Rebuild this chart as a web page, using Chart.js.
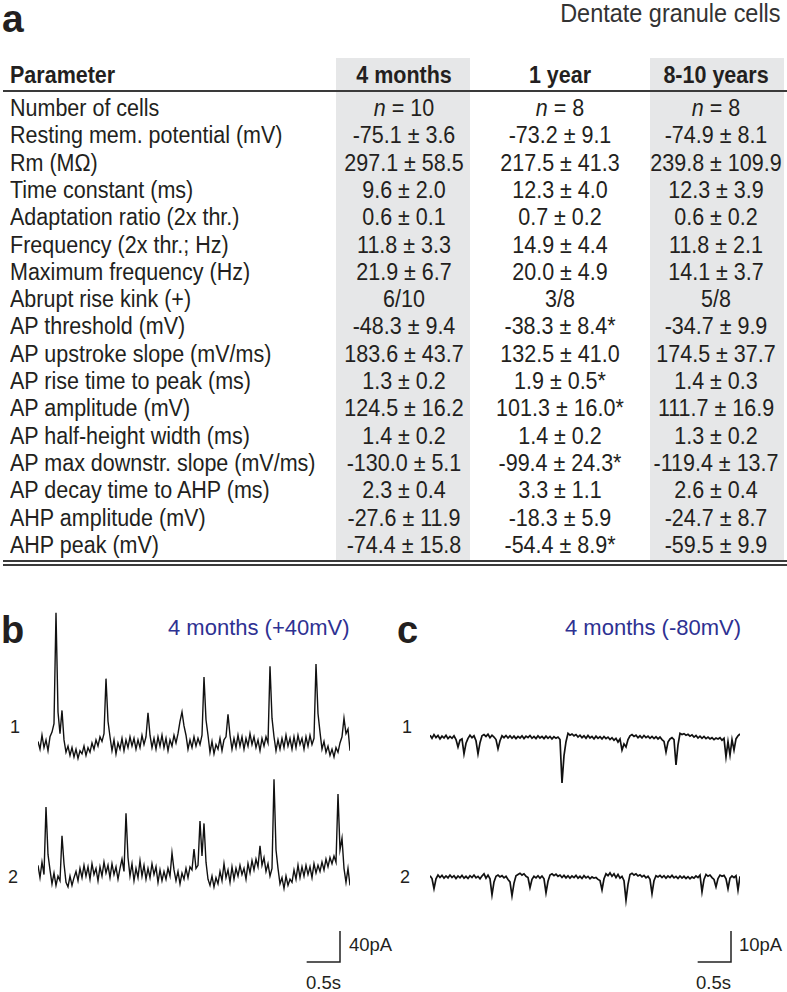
<!DOCTYPE html>
<html>
<head>
<meta charset="utf-8">
<script src="https://cdn.jsdelivr.net/npm/chart.js@4/dist/chart.umd.min.js"></script>
<style>
  body { margin:0; width:787px; height:992px; background:#fff; position:relative; overflow:hidden;
         font-family:"Liberation Sans", Arial, sans-serif; color:#231f20; }
  .t { position:absolute; white-space:nowrap; height:24px; line-height:24px; font-size:21.5px; }
  .n { font-size:23.5px; transform:scaleX(0.915); transform-origin:left center; }
  .c { text-align:center; width:170px; transform-origin:center center; }
  .b { font-weight:bold; }
  .band { position:absolute; background:#e6e7e8; }
  .rule { position:absolute; left:3px; width:784px; background:#3a3a3a; }
  canvas { position:absolute; }
</style>
</head>
<body>

<div class="band" style="left:336px; top:58px; width:134px; height:503px"></div>
<div class="band" style="left:650px; top:58px; width:134px; height:503px"></div>

<div class="t b" style="left:2px; top:1px; font-size:39px; height:36px; line-height:36px">a</div>
<div class="t" style="right:6px; top:1px; font-size:25.5px; color:#333; transform:scaleX(0.92); transform-origin:right center">Dentate granule cells</div>

<div id="table"></div>

<div class="rule" style="top:90px; height:2px"></div>
<div class="rule" style="top:560px; height:1.5px"></div>
<div class="rule" style="top:564px; height:1.5px"></div>

<div class="t b" style="left:1px; top:610px; font-size:38px; height:40px; line-height:40px">b</div>
<div class="t" style="left:168px; top:616px; font-size:22px; color:#2e3192">4 months (+40mV)</div>
<div class="t" style="left:10px; top:715px; font-size:18px">1</div>
<div class="t" style="left:8px; top:865px; font-size:18px">2</div>
<div class="t" style="left:349px; top:933px; font-size:18.5px">40pA</div>
<div class="t" style="left:306px; top:971px; font-size:18.5px">0.5s</div>

<div class="t b" style="left:397px; top:610px; font-size:38px; height:40px; line-height:40px">c</div>
<div class="t" style="left:565px; top:616px; font-size:22px; color:#2e3192">4 months (-80mV)</div>
<div class="t" style="left:402px; top:715px; font-size:18px">1</div>
<div class="t" style="left:400px; top:865px; font-size:18px">2</div>
<div class="t" style="left:739px; top:933px; font-size:18.5px">10pA</div>
<div class="t" style="left:696px; top:971px; font-size:18.5px">0.5s</div>

<canvas id="panelB" width="312" height="365" style="left:38px; top:600px"></canvas>
<canvas id="panelC" width="310" height="365" style="left:430px; top:600px"></canvas>

<script>
// table contents
const headers = ["4 months", "1 year", "8-10 years"];
const params = [
  "Number of cells", "Resting mem. potential (mV)", "Rm (MΩ)", "Time constant (ms)",
  "Adaptation ratio (2x thr.)", "Frequency (2x thr.; Hz)", "Maximum frequency (Hz)",
  "Abrupt rise kink (+)", "AP threshold (mV)", "AP upstroke slope (mV/ms)",
  "AP rise time to peak (ms)", "AP amplitude (mV)", "AP half-height width (ms)",
  "AP max downstr. slope (mV/ms)", "AP decay time to AHP (ms)", "AHP amplitude (mV)", "AHP peak (mV)"
];
const months4 = ["n = 10", "-75.1 ± 3.6", "297.1 ± 58.5", "9.6 ± 2.0", "0.6 ± 0.1", "11.8 ± 3.3",
  "21.9 ± 6.7", "6/10", "-48.3 ± 9.4", "183.6 ± 43.7", "1.3 ± 0.2", "124.5 ± 16.2", "1.4 ± 0.2",
  "-130.0 ± 5.1", "2.3 ± 0.4", "-27.6 ± 11.9", "-74.4 ± 15.8"];
const year1 = ["n = 8", "-73.2 ± 9.1", "217.5 ± 41.3", "12.3 ± 4.0", "0.7 ± 0.2", "14.9 ± 4.4",
  "20.0 ± 4.9", "3/8", "-38.3 ± 8.4*", "132.5 ± 41.0", "1.9 ± 0.5*", "101.3 ± 16.0*", "1.4 ± 0.2",
  "-99.4 ± 24.3*", "3.3 ± 1.1", "-18.3 ± 5.9", "-54.4 ± 8.9*"];
const years8to10 = ["n = 8", "-74.9 ± 8.1", "239.8 ± 109.9", "12.3 ± 3.9", "0.6 ± 0.2", "11.8 ± 2.1",
  "14.1 ± 3.7", "5/8", "-34.7 ± 9.9", "174.5 ± 37.7", "1.4 ± 0.3", "111.7 ± 16.9", "1.3 ± 0.2",
  "-119.4 ± 13.7", "2.6 ± 0.4", "-24.7 ± 8.7", "-59.5 ± 9.9"];

// current traces, pA, one sample every 30 ms
const DT = 0.03;
const tracePos1 = [
  2,-8,10,-6,4,-10,8,14,25,168,
  40,12,42,4,-12,-4,-16,-6,-18,-8,
  -20,-10,-14,-4,-16,-6,-12,0,-8,4,
  -4,8,2,12,83,28,8,-10,4,-14,
  0,-8,6,-10,4,-6,8,-4,6,-8,
  4,-6,10,-2,8,39,10,-6,6,-8,
  8,-4,10,-6,6,-10,4,-4,10,0,
  12,28,40,22,10,-8,4,-6,8,-4,
  6,-2,10,85,30,10,-12,2,-14,-2,
  -8,6,-10,4,8,37,10,-8,6,-6,
  10,-4,8,-8,6,-4,12,-2,8,-6,
  4,-10,6,-4,8,0,99,32,8,-10,
  4,-8,6,-6,10,-4,6,-8,8,-6,
  10,-2,6,-8,8,-4,10,-2,6,102,
  38,14,-8,2,-12,-4,-16,-8,-18,-6,
  -12,0,8,32,12,18,-10
];
const tracePos2 = [
  10,-6,14,-2,85,24,4,-14,0,-16,
  -4,-10,48,12,-12,-18,-4,-16,-6,2,
  -10,6,-6,10,-4,8,-8,12,-2,6,
  -10,8,-4,14,0,10,-6,12,-2,8,
  -8,6,18,2,77,20,-4,12,-10,6,
  -6,16,-4,10,-8,6,-6,12,-2,8,
  -12,4,-10,2,-8,6,-4,26,4,-10,
  2,-14,0,-8,6,-6,8,4,31,6,
  10,67,22,64,14,-8,-16,-4,-18,-6,
  -14,2,-10,12,-6,4,-12,8,-8,6,
  -4,10,-2,6,-8,12,0,16,4,18,
  8,35,10,20,2,12,-4,6,121,30,
  6,-14,-6,-20,-4,-16,-8,-12,4,-8,
  10,-6,8,-4,10,-2,8,-6,12,0,
  10,2,14,4,18,8,20,12,22,14,
  102,30,45,6,-12,6,-16
];
const traceNeg1 = [
  0.6,-0.4,0.8,-0.2,0.5,-0.6,0.3,-0.3,0.6,-0.5,
  0.2,-0.4,0.4,-0.8,-3.2,-1.0,-0.6,-5.4,-2.0,-0.4,
  0.6,-0.2,0.4,-1.2,-5.4,-1.8,0.4,0.8,0.2,0.9,
  -0.2,0.6,0.0,-0.8,-3.8,-1.2,0.4,-0.2,0.5,-0.3,
  0.4,-0.4,0.3,-0.5,0.2,-0.3,0.4,-0.5,0.3,-0.2,
  0.5,-0.4,0.2,-0.5,0.4,-0.3,0.2,-0.5,0.3,-0.4,
  0.2,-0.6,0.1,-0.4,0.0,-0.8,-14.8,-6.0,-1.5,1.2,
  0.6,1.0,0.4,0.8,0.0,0.6,-0.2,0.4,-0.4,0.5,
  -0.3,0.2,-0.6,0.3,-0.4,0.1,-0.6,0.2,-0.5,0.0,
  -0.8,-0.2,-1.0,-0.4,-1.6,-0.6,-4.2,-2.2,-3.2,-0.8,
  0.4,0.8,0.2,0.6,-0.2,0.4,-0.3,0.5,-0.2,0.3,
  -0.4,0.2,-0.5,0.1,-0.6,0.0,-0.8,-1.4,-4.8,-1.6,
  -0.6,-0.2,-0.8,-9.0,-2.5,1.2,0.8,1.1,0.6,0.9,
  0.3,0.7,0.0,0.5,-0.3,0.3,-0.4,0.2,-0.5,0.0,
  -0.6,-0.2,-0.8,-0.3,-0.6,-0.2,-1.0,-0.4,-6.4,-1.5,
  -5.8,-0.8,-4.2,-0.6,0.4,1.0
];
const traceNeg2 = [
  0.4,-0.5,-3.8,-0.6,0.6,-0.2,0.5,-0.4,0.3,-0.3,
  0.6,-0.2,0.4,-0.5,0.3,-0.3,0.5,-0.4,0.2,-0.5,
  0.4,-0.2,0.6,-0.3,0.2,-0.6,0.3,1.0,-0.4,0.6,
  -0.6,-5.8,-1.6,0.2,0.6,0.0,0.4,-0.3,0.2,-0.8,
  -1.6,-6.1,-2.0,0.4,0.8,1.2,0.6,1.0,0.2,-0.2,
  -3.5,-0.8,0.2,-0.3,0.4,-0.4,0.3,-0.6,-5.1,-1.4,
  0.6,1.0,0.4,0.9,0.2,0.6,-0.2,0.5,-0.3,0.4,
  -0.4,0.3,-0.2,0.5,-0.4,0.2,-0.5,0.4,-0.3,0.2,
  -0.6,0.0,-0.4,-0.2,-0.8,-1.2,-4.2,-0.6,1.0,0.4,
  1.3,0.2,1.0,-0.2,0.8,-0.4,0.2,-1.2,-7.5,-2.4,
  0.8,1.2,0.6,1.0,0.3,0.7,0.0,0.5,-0.3,0.2,
  -0.8,-5.4,-1.2,0.4,0.0,0.5,-0.2,0.4,-0.4,0.3,
  -0.2,0.5,-0.3,0.2,-0.5,0.3,-0.4,0.2,-0.5,0.1,
  -0.6,0.0,-0.4,0.3,-0.2,0.6,-4.8,-0.8,0.8,0.2,
  0.6,-0.2,-0.8,-3.2,-0.5,0.6,0.2,0.5,-0.6,-3.8,
  -0.4,0.3,-0.2,0.4,-4.2,0.2
];
// scale bars: [seconds, pA]
const barB = [0.5, 40];
const barC = [0.5, 10];

// build the table
var tbl = document.getElementById('table');
var colX = [404, 560, 716];
var html = '<div class="t n b" style="left:10px; top:63px">Parameter</div>';
headers.forEach(function(h, k) {
  html += '<div class="t n c b" style="left:' + (colX[k] - 85) + 'px; top:63px">' + h + '</div>';
});
var fmt = function(s) { return s.replace(/^n =/, '<i>n</i> ='); };
params.forEach(function(p, i) {
  var top = Math.round(96 + 27.3 * i);
  html += '<div class="t n" style="left:10px; top:' + top + 'px">' + p + '</div>';
  [months4, year1, years8to10].forEach(function(col, k) {
    html += '<div class="t n c" style="left:' + (colX[k] - 85) + 'px; top:' + top + 'px">' + fmt(col[i]) + '</div>';
  });
});
tbl.innerHTML = html;

// panel charts
var traceChart = function(id, t1, t2, off1, off2, yMax, xMax, bar, barX, barY, w) {
  var pts = function(arr, off) {
    return arr.map(function(v, i) { return {x: i * DT, y: v + off}; });
  };
  var barPts = [
    {x: barX - bar[0], y: barY},
    {x: barX, y: barY},
    {x: barX, y: barY + bar[1]}
  ];
  var line = function(data, lw, c) {
    return {data: data, borderColor: c, borderWidth: lw, pointRadius: 0, tension: 0, clip: false, fill: false,
            borderJoinStyle: 'miter'};
  };
  return new Chart(document.getElementById(id), {
    type: 'line',
    data: {datasets: [line(pts(t1, off1), w, '#111'), line(pts(t2, off2), w, '#111'), line(barPts, 1.5, '#222')]},
    options: {
      responsive: false, animation: false, events: [],
      layout: {padding: 0},
      plugins: {legend: {display: false}, tooltip: {enabled: false}},
      scales: {
        x: {type: 'linear', display: false, min: 0, max: xMax},
        y: {type: 'linear', display: false, min: 0, max: yMax}
      }
    }
  });
};

traceChart('panelB', tracePos1, tracePos2, 286.5, 118.7, 471, 4.68, barB, 4.53, 3.9, 1.4);
traceChart('panelC', traceNeg1, traceNeg2, 73.5, 28.4, 117.7, 4.65, barC, 4.515, 0.97, 1.7);
</script>
</body>
</html>
